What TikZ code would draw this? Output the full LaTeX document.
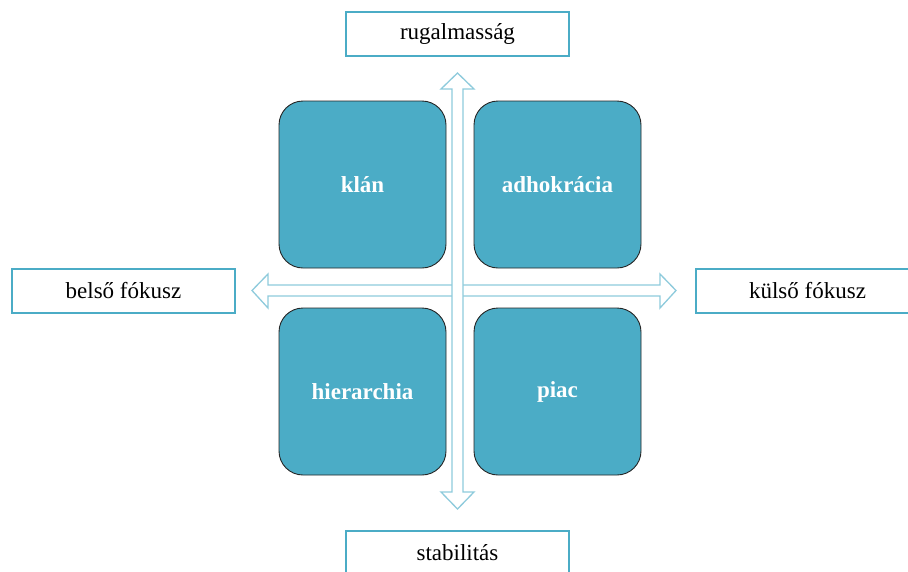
\documentclass[tikz,border=0pt]{standalone}
\usepackage{fontspec}
\setmainfont{Liberation Serif}
\definecolor{tealfill}{HTML}{4BACC6}
\definecolor{frameblue}{HTML}{4BACC6}
\definecolor{arrowblue}{HTML}{8ECBDC}
\tikzset{
  axislabel/.style={draw=frameblue, line width=1.6pt, fill=white,
    minimum width=223pt, minimum height=44pt, inner sep=0pt,
    font=\fontsize{23}{26}\selectfont, text=black},
  quadrant/.style={draw=black!85, line width=0.9pt, fill=tealfill,
    rounded corners=24pt, minimum width=167pt, minimum height=167pt,
    inner sep=0pt, font=\fontsize{23}{26}\selectfont\bfseries, text=white},
  axisarrow/.style={draw=arrowblue, line width=1.3pt, fill=white, line join=miter}
}
\begin{document}
\begin{tikzpicture}[x=1pt, y=-1pt]
  \clip (0,0) rectangle (908,571);
  \fill[white] (0,0) rectangle (908,571);

  % horizontal double arrow
  \draw[axisarrow] (252,290.5) -- (268,274) -- (268,285) -- (660,285) -- (660,274)
    -- (676,290.5) -- (660,308) -- (660,296) -- (268,296) -- (268,308) -- cycle;
  % vertical double arrow, drawn on top
  \draw[axisarrow] (457.5,73) -- (474,89) -- (463,89) -- (463,492) -- (474,492)
    -- (457.5,509) -- (441,492) -- (452,492) -- (452,89) -- (441,89) -- cycle;

  % the four quadrants
  \node[quadrant] (klan)  at (362.5,184.5) {klán};
  \node[quadrant] (adhok) at (557.5,184.5) {adhokrácia};
  \node[quadrant] (hier)  at (362.5,391.5) {hierarchia};
  \node[quadrant] (piac)  at (557.5,391.5) {piac};

  % axis end labels
  \node[axislabel] (rug)  at (457.5,34)  {rugalmasság};
  \node[axislabel] (stab) at (457.5,553) {stabilitás};
  \node[axislabel] (bels) at (123.5,291) {belső fókusz};
  \node[axislabel] (kuls) at (807.5,291) {külső fókusz};
\end{tikzpicture}
\end{document}
